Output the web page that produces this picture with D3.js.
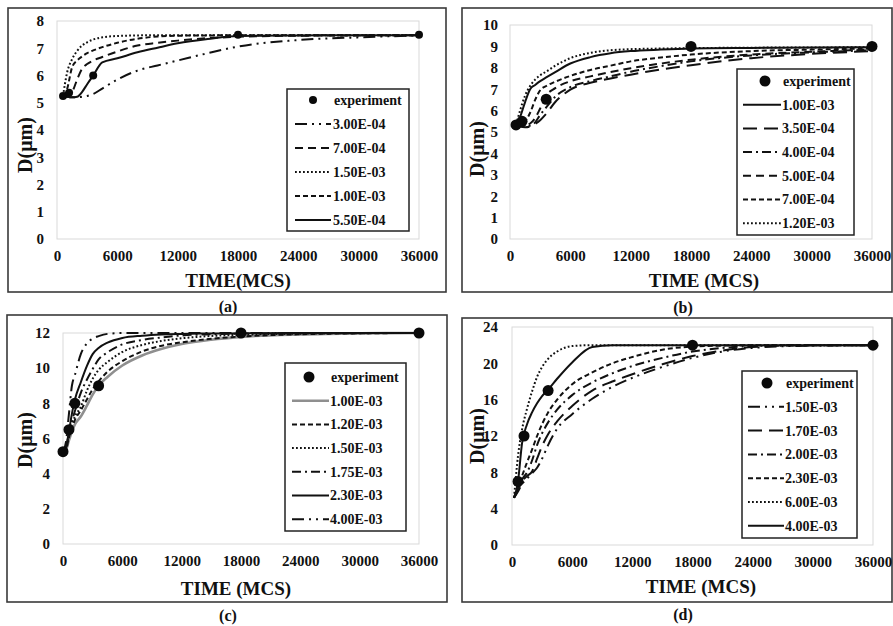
<!DOCTYPE html>
<html>
<head>
<meta charset="utf-8">
<script src="https://cdn.jsdelivr.net/npm/d3@7"></script>
<style>
  body { margin: 0; background: #fff; }
  svg { display: block; }
  text { font-family: "Liberation Serif", "Times New Roman", serif; font-weight: bold; fill: #111; }
</style>
</head>
<body>
<svg id="chart" width="893" height="626"></svg>
<script>
// ---------- data ----------
const timeTicks = [0, 6000, 12000, 18000, 24000, 30000, 36000];

// (a) grain size vs time
const timeA = [600, 1000, 1500, 2000, 2500, 3000, 3600, 4500, 6000, 8000, 10000, 12000, 15000, 18000, 24000, 30000, 36000];
const expTimeA = [600, 1200, 3600, 18000, 36000];
const expA = [5.25, 5.37, 6.0, 7.5, 7.5];
const a300E4 = [5.25, 5.22, 5.2, 5.2, 5.22, 5.25, 5.32, 5.52, 5.85, 6.18, 6.37, 6.55, 6.82, 7.06, 7.3, 7.4, 7.47];
const a700E4 = [5.25, 5.28, 5.4, 5.85, 6.25, 6.42, 6.55, 6.68, 6.88, 7.1, 7.2, 7.28, 7.37, 7.42, 7.46, 7.47, 7.48];
const a150E3 = [5.25, 6.1, 6.6, 6.9, 7.1, 7.22, 7.32, 7.4, 7.45, 7.47, 7.48, 7.48, 7.48, 7.48, 7.48, 7.48, 7.48];
const a100E3 = [5.25, 5.5, 6.3, 6.55, 6.7, 6.82, 6.92, 7.04, 7.2, 7.35, 7.43, 7.46, 7.47, 7.48, 7.48, 7.48, 7.48];
const a550E4 = [5.25, 5.22, 5.2, 5.22, 5.4, 5.68, 6.0, 6.48, 6.63, 6.85, 7.02, 7.18, 7.34, 7.45, 7.47, 7.48, 7.48];
const yTicksA = [0, 1, 2, 3, 4, 5, 6, 7, 8];

// (b)
const timeB = [600, 1000, 1500, 2000, 2500, 3000, 3600, 4500, 6000, 8000, 10000, 12000, 15000, 18000, 24000, 30000, 36000];
const expTimeB = [600, 1200, 3600, 18000, 36000];
const expB = [5.33, 5.5, 6.53, 9.0, 9.0];
const b100E3 = [5.35, 5.7, 6.4, 7.0, 7.2, 7.38, 7.55, 7.8, 8.2, 8.5, 8.68, 8.78, 8.85, 8.9, 8.93, 8.95, 8.96];
const b350E4 = [5.35, 5.25, 5.22, 5.25, 5.38, 5.55, 5.85, 6.4, 6.98, 7.3, 7.5, 7.68, 7.92, 8.12, 8.45, 8.65, 8.78];
const b400E4 = [5.35, 5.28, 5.25, 5.3, 5.45, 5.8, 6.15, 6.65, 7.1, 7.38, 7.6, 7.82, 8.08, 8.3, 8.58, 8.72, 8.82];
const b500E4 = [5.35, 5.3, 5.3, 5.4, 5.65, 6.1, 6.7, 7.05, 7.37, 7.6, 7.8, 7.98, 8.2, 8.38, 8.62, 8.75, 8.85];
const b700E4 = [5.35, 5.35, 5.5, 5.9, 6.5, 6.95, 7.15, 7.35, 7.62, 7.9, 8.1, 8.3, 8.48, 8.62, 8.78, 8.85, 8.9];
const b120E3 = [5.35, 6.0, 6.7, 7.15, 7.45, 7.65, 7.82, 8.1, 8.45, 8.7, 8.82, 8.87, 8.9, 8.92, 8.94, 8.95, 8.96];
const yTicksB = [0, 1, 2, 3, 4, 5, 6, 7, 8, 9, 10];

// (c)
const timeC = [0, 300, 600, 900, 1200, 1800, 2400, 3000, 3600, 4500, 6000, 8000, 10000, 12000, 15000, 18000, 24000, 30000, 36000];
const expTimeC = [0, 600, 1200, 3600, 18000, 36000];
const expC = [5.25, 6.5, 8.0, 9.0, 12.0, 12.0];
const c100E3 = [5.2, 5.35, 5.9, 6.4, 6.8, 7.25, 7.85, 8.5, 9.0, 9.5, 10.15, 10.72, 11.1, 11.37, 11.62, 11.78, 11.92, 11.98, 12];
const c120E3 = [5.2, 5.35, 6.05, 6.6, 7.05, 7.6, 8.2, 8.8, 9.25, 9.8, 10.4, 10.95, 11.28, 11.47, 11.67, 11.8, 11.93, 11.98, 12];
const c150E3 = [5.2, 5.4, 6.2, 6.8, 7.25, 7.8, 8.7, 9.4, 9.9, 10.35, 10.92, 11.32, 11.55, 11.7, 11.83, 11.9, 11.96, 11.99, 12];
const c175E3 = [5.2, 5.45, 6.3, 7.0, 7.55, 8.6, 9.33, 9.95, 10.5, 10.9, 11.35, 11.6, 11.75, 11.86, 11.93, 11.96, 11.99, 12, 12];
const c230E3 = [5.2, 5.5, 6.4, 7.4, 8.2, 9.2, 10.1, 10.8, 11.15, 11.45, 11.72, 11.85, 11.92, 11.95, 11.97, 11.98, 12, 12, 12];
const c400E3 = [5.2, 5.8, 7.4, 9.0, 9.6, 10.8, 11.4, 11.68, 11.82, 11.95, 12, 12, 12, 12, 12, 12, 12, 12, 12];
const yTicksC = [0, 2, 4, 6, 8, 10, 12];

// (d)
const timeD = [200, 600, 1000, 1500, 2000, 2500, 3000, 3600, 4500, 6000, 8000, 10000, 12000, 15000, 18000, 21000, 24000, 30000, 36000];
const expTimeD = [600, 1200, 3600, 18000, 36000];
const expD = [7.0, 12.0, 17.0, 22.0, 22.0];
const d150E3 = [5.2, 5.9, 6.7, 7.3, 7.9, 8.5, 9.5, 11.0, 12.8, 14.4, 16.1, 17.4, 18.4, 19.6, 20.6, 21.3, 21.7, 21.95, 22];
const d170E3 = [5.2, 6.1, 7.0, 7.6, 8.1, 9.5, 10.9, 12.2, 13.6, 15.3, 17.0, 18.0, 18.8, 19.9, 20.8, 21.4, 21.8, 22, 22];
const d200E3 = [5.2, 6.2, 7.2, 8.0, 9.3, 11.0, 12.3, 13.5, 14.9, 16.5, 17.9, 18.9, 19.7, 20.6, 21.3, 21.7, 21.9, 22, 22];
const d230E3 = [5.2, 6.4, 7.6, 9.1, 10.5, 12.0, 13.3, 14.6, 16.0, 17.7, 19.0, 20.0, 20.7, 21.5, 21.85, 21.95, 22, 22, 22];
const d600E3 = [5.2, 9.8, 12.7, 15.0, 16.9, 18.5, 19.6, 20.5, 21.3, 21.9, 22.0, 22, 22, 22, 22, 22, 22, 22, 22];
const d400E3 = [5.2, 7.0, 11.2, 13.3, 14.6, 15.6, 16.4, 17.1, 18.3, 20.1, 21.8, 22, 22, 22, 22, 22, 22, 22, 22];
const yTicksD = [0, 4, 8, 12, 16, 20, 24];

// ---------- line styles ----------
const STYLE = {
  solid:    { dash: null, color: "#111", width: 2 },
  gray:     { dash: null, color: "#8f8f8f", width: 2.6 },
  dot:      { dash: "1.8,2.2", color: "#111", width: 2 },
  shortDash:{ dash: "5,3", color: "#111", width: 2 },
  dash:     { dash: "8,5", color: "#111", width: 2 },
  longDash: { dash: "14,7", color: "#111", width: 2 },
  dashDot:  { dash: "9,4,2,4", color: "#111", width: 2 },
  dashDotDot: { dash: "12,5,2,5,2,5", color: "#111", width: 2 }
};

// ---------- panel layout ----------
const panels = [
  {
    frame: [8, 8, 446, 292], plot: [57, 21, 419, 239], yMax: 8, yTicks: yTicksA,
    time: timeA, expTime: expTimeA, exp: expA, dotR: 4,
    series: [
      { name: "3.00E-04", values: a300E4, style: "dashDotDot" },
      { name: "7.00E-04", values: a700E4, style: "dash" },
      { name: "1.50E-03", values: a150E3, style: "dot" },
      { name: "1.00E-03", values: a100E3, style: "shortDash" },
      { name: "5.50E-04", values: a550E4, style: "solid" }
    ],
    legend: { box: [287, 89, 409, 231], y0: 100, step: 24, sx0: 295, sx1: 331, tx: 333, mx: 313, mr: 4 },
    xTitle: "TIME(MCS)", xTitlePos: [238, 287], yTitlePos: [25, 145], caption: "(a)", capPos: [228, 312], yPad: 13
  },
  {
    frame: [462, 8, 892, 292], plot: [510, 25, 872, 239], yMax: 10, yTicks: yTicksB,
    time: timeB, expTime: expTimeB, exp: expB, dotR: 5.5,
    series: [
      { name: "1.00E-03", values: b100E3, style: "solid" },
      { name: "3.50E-04", values: b350E4, style: "longDash" },
      { name: "4.00E-04", values: b400E4, style: "dashDot" },
      { name: "5.00E-04", values: b500E4, style: "dash" },
      { name: "7.00E-04", values: b700E4, style: "shortDash" },
      { name: "1.20E-03", values: b120E3, style: "dot" }
    ],
    legend: { box: [737, 69, 854, 235], y0: 81, step: 23.7, sx0: 743, sx1: 781, tx: 782, mx: 765, mr: 5.5 },
    xTitle: "TIME (MCS)", xTitlePos: [704, 287], yTitlePos: [477, 149], caption: "(b)", capPos: [683, 313], yPad: 12
  },
  {
    frame: [7, 315, 447, 602], plot: [63, 333, 419, 544], yMax: 12, yTicks: yTicksC,
    time: timeC, expTime: expTimeC, exp: expC, dotR: 5.5,
    series: [
      { name: "1.00E-03", values: c100E3, style: "gray" },
      { name: "1.20E-03", values: c120E3, style: "shortDash" },
      { name: "1.50E-03", values: c150E3, style: "dot" },
      { name: "1.75E-03", values: c175E3, style: "dashDot" },
      { name: "2.30E-03", values: c230E3, style: "solid" },
      { name: "4.00E-03", values: c400E3, style: "dashDotDot" }
    ],
    legend: { box: [285, 363, 406, 531], y0: 377, step: 23.7, sx0: 292, sx1: 329, tx: 330, mx: 309, mr: 5.5 },
    xTitle: "TIME (MCS)", xTitlePos: [236, 595], yTitlePos: [25, 440], caption: "(c)", capPos: [228, 621], yPad: 13
  },
  {
    frame: [462, 318, 892, 602], plot: [512, 327, 873, 545], yMax: 24, yTicks: yTicksD,
    time: timeD, expTime: expTimeD, exp: expD, dotR: 5.5,
    series: [
      { name: "1.50E-03", values: d150E3, style: "dashDotDot" },
      { name: "1.70E-03", values: d170E3, style: "longDash" },
      { name: "2.00E-03", values: d200E3, style: "dashDot" },
      { name: "2.30E-03", values: d230E3, style: "shortDash" },
      { name: "6.00E-03", values: d600E3, style: "dot" },
      { name: "4.00E-03", values: d400E3, style: "solid" }
    ],
    legend: { box: [742, 371, 857, 538], y0: 383, step: 23.8, sx0: 748, sx1: 784, tx: 785, mx: 767, mr: 5.5 },
    xTitle: "TIME (MCS)", xTitlePos: [701, 593], yTitlePos: [477, 436], caption: "(d)", capPos: [683, 620], yPad: 14
  }
];

// ---------- drawing ----------
const svg = d3.select("#chart");
svg.append("rect").attr("width", 893).attr("height", 626).attr("fill", "#fff");

function applyStyle(sel, st) {
  sel.attr("fill", "none")
     .attr("stroke", st.color)
     .attr("stroke-width", st.width)
     .attr("stroke-dasharray", st.dash);
}

panels.forEach(p => {
  const g = svg.append("g");
  const [fx0, fy0, fx1, fy1] = p.frame;
  const [px0, py0, px1, py1] = p.plot;

  // outer frame
  g.append("rect")
    .attr("x", fx0).attr("y", fy0)
    .attr("width", fx1 - fx0).attr("height", fy1 - fy0)
    .attr("fill", "#fff").attr("stroke", "#3a3a3a").attr("stroke-width", 1.6);

  const x = d3.scaleLinear().domain([0, 36000]).range([px0, px1]);
  const y = d3.scaleLinear().domain([0, p.yMax]).range([py1, py0]);

  // plot area border
  g.append("rect")
    .attr("x", px0).attr("y", py0)
    .attr("width", px1 - px0).attr("height", py1 - py0)
    .attr("fill", "none").attr("stroke", "#d9d9d9").attr("stroke-width", 1);

  // axes (labels only)
  const xAxis = g.append("g")
    .attr("transform", `translate(0,${py1})`)
    .call(d3.axisBottom(x).tickValues(timeTicks).tickFormat(d3.format("d")).tickSize(0).tickPadding(11));
  const yAxis = g.append("g")
    .attr("transform", `translate(${px0},0)`)
    .call(d3.axisLeft(y).tickValues(p.yTicks).tickFormat(d3.format("d")).tickSize(0).tickPadding(p.yPad));
  [xAxis, yAxis].forEach(ax => {
    ax.select(".domain").remove();
    ax.selectAll("text")
      .attr("font-family", "Liberation Serif, Times New Roman, serif")
      .attr("font-weight", "bold")
      .attr("font-size", 15)
      .attr("fill", "#111");
  });

  // simulated curves
  const line = d3.line()
    .x((d, i) => x(p.time[i]))
    .y(d => y(d))
    .curve(d3.curveMonotoneX);

  p.series.forEach(s => {
    g.append("path")
      .attr("d", line(s.values))
      .call(applyStyle, STYLE[s.style]);
  });

  // experimental points
  g.selectAll(null)
    .data(p.exp)
    .join("circle")
    .attr("cx", (d, i) => x(p.expTime[i]))
    .attr("cy", d => y(d))
    .attr("r", p.dotR)
    .attr("fill", "#0a0a0a");

  // legend
  const L = p.legend;
  g.append("rect")
    .attr("x", L.box[0]).attr("y", L.box[1])
    .attr("width", L.box[2] - L.box[0]).attr("height", L.box[3] - L.box[1])
    .attr("fill", "#fff").attr("stroke", "#222").attr("stroke-width", 1.5);

  g.append("circle")
    .attr("cx", L.mx).attr("cy", L.y0).attr("r", L.mr).attr("fill", "#0a0a0a");
  g.append("text")
    .attr("x", L.tx + 1).attr("y", L.y0).attr("dy", "0.35em")
    .attr("font-size", 14).text("experiment");

  p.series.forEach((s, i) => {
    const yy = L.y0 + L.step * (i + 1);
    g.append("line")
      .attr("x1", L.sx0).attr("x2", L.sx1).attr("y1", yy).attr("y2", yy)
      .call(applyStyle, STYLE[s.style]);
    g.append("text")
      .attr("x", L.tx).attr("y", yy).attr("dy", "0.35em")
      .attr("font-size", 14).text(s.name);
  });

  // axis titles
  g.append("text")
    .attr("x", p.xTitlePos[0]).attr("y", p.xTitlePos[1])
    .attr("text-anchor", "middle").attr("font-size", 19)
    .text(p.xTitle);
  g.append("text")
    .attr("transform", `translate(${p.yTitlePos[0]},${p.yTitlePos[1]}) rotate(-90)`)
    .attr("text-anchor", "middle").attr("dy", "0.35em").attr("font-size", 20)
    .text("D(μm)");

  // panel caption
  svg.append("text")
    .attr("x", p.capPos[0]).attr("y", p.capPos[1])
    .attr("text-anchor", "middle").attr("font-size", 16)
    .text(p.caption);
});
</script>
</body>
</html>
